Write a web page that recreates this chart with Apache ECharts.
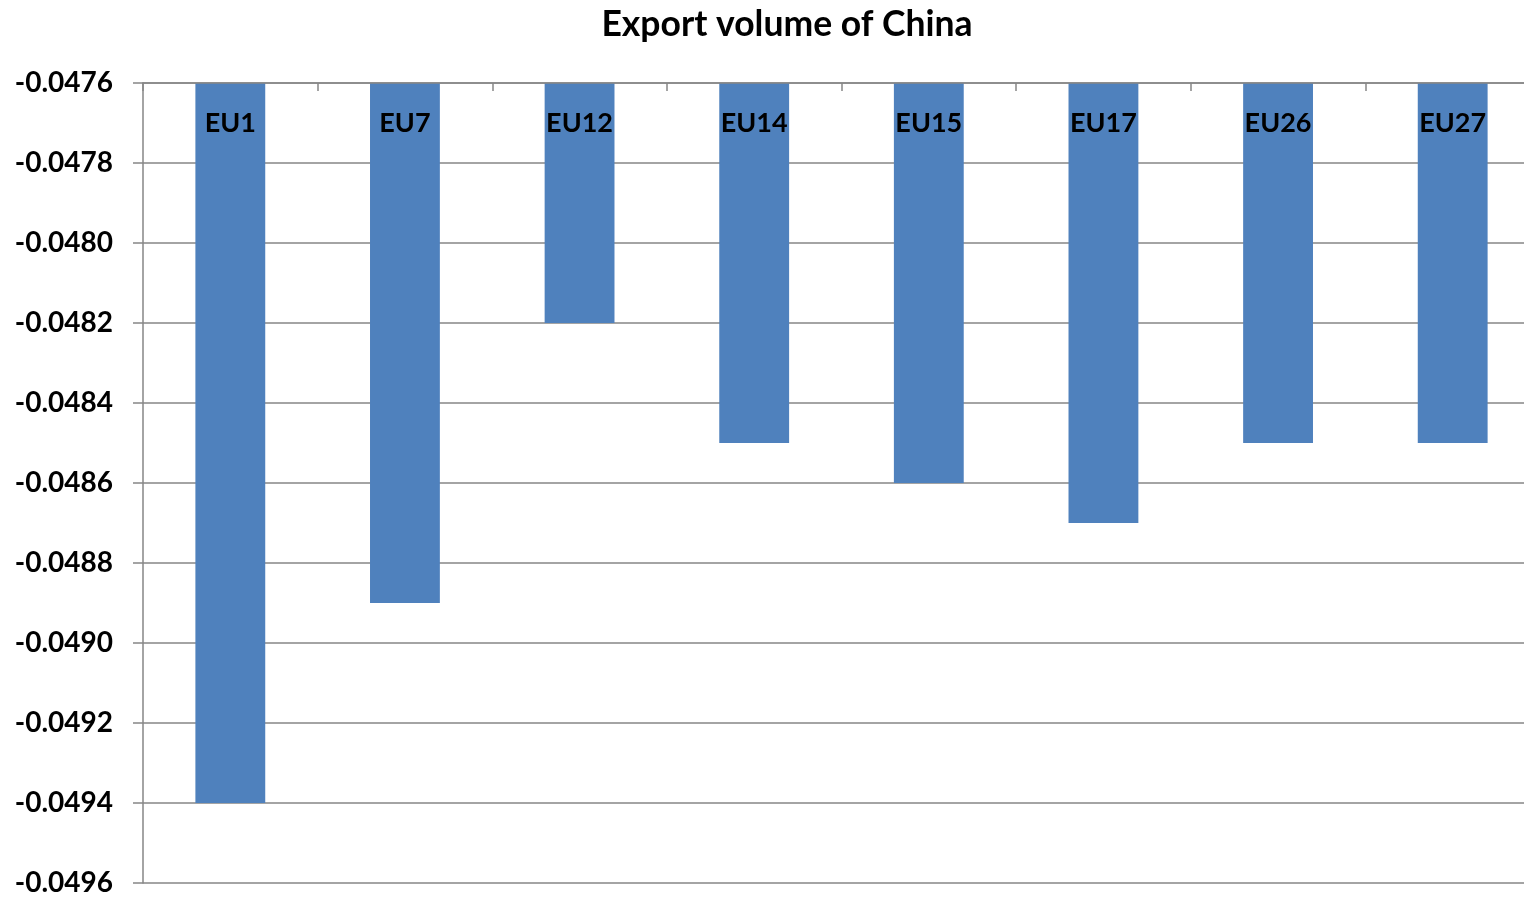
<!DOCTYPE html>
<html><head><meta charset="utf-8">
<script src="https://cdn.jsdelivr.net/npm/echarts@6/dist/echarts.min.js"></script>
<style>html,body{margin:0;padding:0;background:#fff}#c{width:1524px;height:897px}</style>
</head><body><div id="c"></div>
<script>
const categories = ['EU1','EU7','EU12','EU14','EU15','EU17','EU26','EU27'];
const values = [-0.0494,-0.0489,-0.0482,-0.0485,-0.0486,-0.0487,-0.0485,-0.0485];
const yMin = -0.0496, yMax = -0.0476, yStep = 0.0002;
const font = "Lato, 'Open Sans', sans-serif";
const chart = echarts.init(document.getElementById('c'));
chart.setOption({
  animation: false,
  title: {text: 'Export volume of China', left: 782, textAlign: 'center', top: 2,
    textStyle: {fontFamily: font, fontWeight: 'bold', fontSize: 35.5, color: '#000'}},
  grid: {left: 143, width: 1397, top: 83, bottom: 14, outerBoundsMode: 'none', containLabel: false},
  xAxis: {type: 'category', data: categories, position: 'top', z: 10,
    axisLine: {lineStyle: {color: '#868686', width: 1.5}},
    axisTick: {show: true, inside: true, length: 8, lineStyle: {color: '#868686', width: 1.5}},
    axisLabel: {inside: true, margin: 40, color: '#000', fontFamily: font, fontWeight: 'bold', fontSize: 27, verticalAlign: 'middle'}},
  yAxis: {type: 'value', min: yMin, max: yMax, interval: yStep,
    axisLine: {show: true, lineStyle: {color: '#868686', width: 1.5}},
    axisTick: {show: true, length: 10, lineStyle: {color: '#868686', width: 1.5}},
    splitLine: {lineStyle: {color: '#868686', width: 1.5}},
    axisLabel: {margin: 30, color: '#000', fontFamily: font, fontWeight: 'bold', fontSize: 28,
      formatter: v => v.toFixed(4)}},
  series: [{type: 'bar', data: values, barWidth: '40%', clip: true, itemStyle: {color: '#4f81bd'}, z: 1}]
});
</script></body></html>
